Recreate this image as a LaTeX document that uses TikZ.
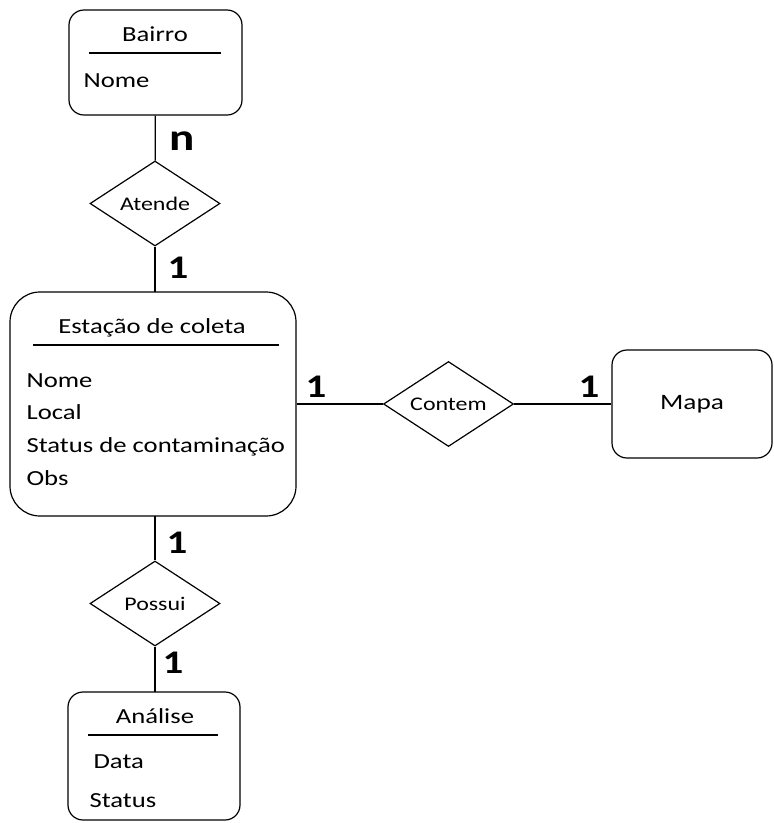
\documentclass[tikz,border=0pt]{standalone}
\usepackage{fontspec}
\setmainfont{Carlito}[FakeStretch=1.24]
\usetikzlibrary{shapes.geometric,positioning}

\begin{document}
\begin{tikzpicture}[x=1pt,y=-1pt,line width=1.2pt,
	entity/.style={draw,rounded corners=15pt,inner sep=0pt,font=\fontsize{22}{26}\selectfont},
	relation/.style={draw,diamond,aspect=1.53,inner sep=0pt,minimum width=130pt,minimum height=85pt,font=\fontsize{19.3}{22}\selectfont},
	field/.style={anchor=base west,inner sep=0pt,font=\fontsize{21.5}{24}\selectfont},
	title/.style={anchor=base,inner sep=0pt,font=\fontsize{21.5}{24}\selectfont},
	card/.style={inner sep=0pt,font=\fontsize{33}{36}\selectfont\bfseries}]
	
	\useasboundingbox[fill=white] (0,0) rectangle (774,823);
	
	\node[entity,minimum width=173pt,minimum height=105pt] (bairro) at (155.5,62.5) {};
	\node[title] (bairrot) at (155,41) {Bairro};
	\draw (89,53) -- (221,53);
	\node[field] (bairro1) at (83,87) {Nome};
	
	\node[relation] (atende) at (155,203.5) {Atende};
	
	\node[entity,rounded corners=30pt,minimum width=286pt,minimum height=224pt] (estacao) at (153,404) {};
	\node[title] (estacaot) at (152,333) {Estação de coleta};
	\draw (33,345) -- (279,345);
	\node[field] (estacao1) at (26,387) {Nome};
	\node[field] (estacao2) at (26,419) {Local};
	\node[field] (estacao3) at (26,452) {Status de contaminação};
	\node[field] (estacao4) at (26,485) {Obs};
	
	\node[relation] (contem) at (448.5,404) {Contem};
	
	\node[entity,minimum width=160pt,minimum height=108pt] (mapa) at (692,404) {Mapa};
	
	\node[relation] (possui) at (155,603.5) {Possui};
	
	\node[entity,minimum width=172pt,minimum height=128pt] (analise) at (154,756) {};
	\node[title] (analiset) at (155,723) {Análise};
	\draw (88,735) -- (218,735);
	\node[field] (analise1) at (93,768) {Data};
	\node[field] (analise2) at (89,807) {Status};
	
	\draw (bairro) -- (atende);
	\draw (atende) -- (155,292);
	\draw (estacao.east) -- (contem);
	\draw (contem) -- (mapa);
	\draw (155,516) -- (possui);
	\draw (possui) -- (155,692);
	
	\node[card,font=\fontsize{38}{40}\selectfont\bfseries] (c1) at (182,141) {n};
	\node[card] (c2) at (178,268) {1};
	\node[card] (c3) at (316,387) {1};
	\node[card] (c4) at (589,387) {1};
	\node[card] (c5) at (177,543) {1};
	\node[card] (c6) at (173,663) {1};
	
\end{tikzpicture}
\end{document}
